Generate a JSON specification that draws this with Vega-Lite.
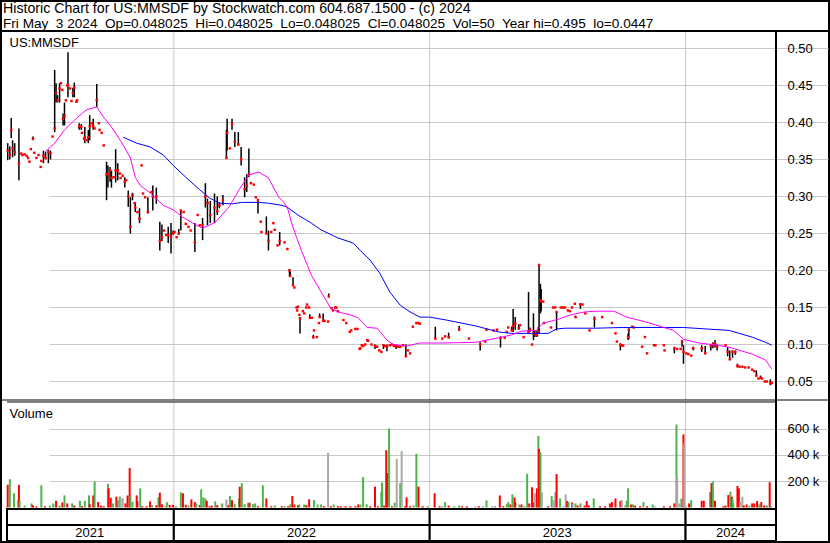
{
"$schema": "https://vega.github.io/schema/vega-lite/v6.json",
"width": 830, "height": 543,
"autosize": {"type": "none"},
"padding": 0,
"background": "white",
"title": {
  "text": "Historic Chart for US:MMSDF by Stockwatch.com 604.687.1500 - (c) 2024",
  "subtitle": "Fri May\u00a0 3 2024\u00a0 Op=0.048025\u00a0 Hi=0.048025\u00a0 Lo=0.048025\u00a0 Cl=0.048025\u00a0 Vol=50\u00a0 Year hi=0.495\u00a0 lo=0.0447",
  "anchor": "start", "frame": "group", "offset": -31, "dx": 3,
  "font": "Liberation Sans", "fontSize": 14.2, "fontWeight": "normal", "color": "black",
  "subtitleFont": "Liberation Sans", "subtitleFontSize": 13.6, "subtitleColor": "black", "subtitlePadding": 1
},
"config": {
  "view": {"stroke": "black", "strokeWidth": 4},
  "font": "Liberation Sans",
  "axis": {"labelFont": "Liberation Sans", "labelFontSize": 13, "labelColor": "black", "titleFont": "Liberation Sans", "titleFontSize": 13, "titleFontWeight": "normal", "titleColor": "black", "gridColor": "#c8c8c8", "gridOpacity": 1, "gridWidth": 1, "domain": false, "ticks": false, "tickSize": 0, "labelFlush": false, "labelOverlap": false, "labelBound": false}
},
"datasets": {
  "yearStarts": [{"date": "2022-01-01"}, {"date": "2023-01-01"}, {"date": "2024-01-01"}],
  "yearCells": [
    {"year": "2021", "start": "2021-05-08", "end": "2022-01-01", "mid": "2021-09-03", "row": "blank"},
    {"year": "2022", "start": "2022-01-01", "end": "2023-01-01", "mid": "2022-07-02", "row": "blank"},
    {"year": "2023", "start": "2023-01-01", "end": "2024-01-01", "mid": "2023-07-02", "row": "blank"},
    {"year": "2024", "start": "2024-01-01", "end": "2024-05-09", "mid": "2024-03-05", "row": "blank"},
    {"year": "2021", "start": "2021-05-08", "end": "2022-01-01", "mid": "2021-09-03", "row": "label"},
    {"year": "2022", "start": "2022-01-01", "end": "2023-01-01", "mid": "2022-07-02", "row": "label"},
    {"year": "2023", "start": "2023-01-01", "end": "2024-01-01", "mid": "2023-07-02", "row": "label"},
    {"year": "2024", "start": "2024-01-01", "end": "2024-05-09", "mid": "2024-03-05", "row": "label"}
  ],
  "prices": [
    {"date":"2021-05-09","high":0.372,"low":0.349,"close":0.362},
    {"date":"2021-05-12","high":0.368,"low":0.350,"close":0.356},
    {"date":"2021-05-14","high":0.406,"low":0.379,"close":0.390},
    {"date":"2021-05-16","high":0.376,"low":0.353,"close":0.365},
    {"date":"2021-05-19","high":0.372,"low":0.355,"close":0.360},
    {"date":"2021-05-25","high":0.392,"low":0.322,"close":0.345},
    {"date":"2021-05-28","high":0.358,"low":0.358,"close":0.358},
    {"date":"2021-05-30","high":0.356,"low":0.356,"close":0.356},
    {"date":"2021-06-02","high":0.357,"low":0.357,"close":0.357},
    {"date":"2021-06-05","high":0.355,"low":0.355,"close":0.355},
    {"date":"2021-06-07","high":0.352,"low":0.352,"close":0.352},
    {"date":"2021-06-09","high":0.347,"low":0.347,"close":0.347},
    {"date":"2021-06-11","high":0.364,"low":0.364,"close":0.364},
    {"date":"2021-06-14","high":0.381,"low":0.376,"close":0.378},
    {"date":"2021-06-16","high":0.359,"low":0.359,"close":0.359},
    {"date":"2021-06-19","high":0.352,"low":0.352,"close":0.352},
    {"date":"2021-06-22","high":0.356,"low":0.356,"close":0.356},
    {"date":"2021-06-25","high":0.340,"low":0.340,"close":0.340},
    {"date":"2021-06-26","high":0.348,"low":0.348,"close":0.348},
    {"date":"2021-06-29","high":0.362,"low":0.345,"close":0.355},
    {"date":"2021-07-02","high":0.360,"low":0.350,"close":0.352},
    {"date":"2021-07-06","high":0.363,"low":0.345,"close":0.360},
    {"date":"2021-07-09","high":0.362,"low":0.350,"close":0.358},
    {"date":"2021-07-12","high":0.381,"low":0.381,"close":0.381},
    {"date":"2021-07-15","high":0.471,"low":0.387,"close":0.392},
    {"date":"2021-07-17","high":0.453,"low":0.427,"close":0.440},
    {"date":"2021-07-19","high":0.437,"low":0.427,"close":0.430},
    {"date":"2021-07-22","high":0.453,"low":0.427,"close":0.446},
    {"date":"2021-07-24","high":0.453,"low":0.453,"close":0.453},
    {"date":"2021-07-26","high":0.444,"low":0.444,"close":0.444},
    {"date":"2021-07-27","high":0.412,"low":0.396,"close":0.405},
    {"date":"2021-07-29","high":0.427,"low":0.396,"close":0.409},
    {"date":"2021-07-31","high":0.430,"low":0.430,"close":0.430},
    {"date":"2021-08-02","high":0.450,"low":0.450,"close":0.450},
    {"date":"2021-08-03","high":0.495,"low":0.434,"close":0.450},
    {"date":"2021-08-06","high":0.446,"low":0.446,"close":0.446},
    {"date":"2021-08-08","high":0.429,"low":0.429,"close":0.429},
    {"date":"2021-08-10","high":0.447,"low":0.434,"close":0.440},
    {"date":"2021-08-12","high":0.454,"low":0.434,"close":0.447},
    {"date":"2021-08-15","high":0.428,"low":0.428,"close":0.428},
    {"date":"2021-08-16","high":0.430,"low":0.430,"close":0.430},
    {"date":"2021-08-19","high":0.399,"low":0.390,"close":0.395},
    {"date":"2021-08-22","high":0.398,"low":0.390,"close":0.394},
    {"date":"2021-08-23","high":0.386,"low":0.386,"close":0.386},
    {"date":"2021-08-26","high":0.378,"low":0.378,"close":0.378},
    {"date":"2021-08-27","high":0.394,"low":0.372,"close":0.380},
    {"date":"2021-08-30","high":0.376,"low":0.376,"close":0.376},
    {"date":"2021-09-01","high":0.390,"low":0.372,"close":0.380},
    {"date":"2021-09-03","high":0.410,"low":0.376,"close":0.395},
    {"date":"2021-09-06","high":0.399,"low":0.399,"close":0.399},
    {"date":"2021-09-08","high":0.405,"low":0.390,"close":0.395},
    {"date":"2021-09-10","high":0.392,"low":0.392,"close":0.392},
    {"date":"2021-09-13","high":0.452,"low":0.421,"close":0.430},
    {"date":"2021-09-16","high":0.399,"low":0.399,"close":0.399},
    {"date":"2021-09-17","high":0.390,"low":0.390,"close":0.390},
    {"date":"2021-09-20","high":0.386,"low":0.386,"close":0.386},
    {"date":"2021-09-23","high":0.369,"low":0.369,"close":0.369},
    {"date":"2021-09-27","high":0.347,"low":0.295,"close":0.330},
    {"date":"2021-09-29","high":0.342,"low":0.312,"close":0.330},
    {"date":"2021-10-02","high":0.340,"low":0.320,"close":0.335},
    {"date":"2021-10-04","high":0.335,"low":0.312,"close":0.325},
    {"date":"2021-10-07","high":0.326,"low":0.326,"close":0.326},
    {"date":"2021-10-10","high":0.364,"low":0.319,"close":0.335},
    {"date":"2021-10-13","high":0.345,"low":0.322,"close":0.335},
    {"date":"2021-10-16","high":0.331,"low":0.331,"close":0.331},
    {"date":"2021-10-17","high":0.325,"low":0.325,"close":0.325},
    {"date":"2021-10-20","high":0.328,"low":0.328,"close":0.328},
    {"date":"2021-10-23","high":0.326,"low":0.312,"close":0.320},
    {"date":"2021-10-25","high":0.322,"low":0.322,"close":0.322},
    {"date":"2021-10-28","high":0.308,"low":0.286,"close":0.300},
    {"date":"2021-10-31","high":0.299,"low":0.250,"close":0.259},
    {"date":"2021-11-03","high":0.305,"low":0.295,"close":0.302},
    {"date":"2021-11-06","high":0.291,"low":0.291,"close":0.291},
    {"date":"2021-11-07","high":0.292,"low":0.279,"close":0.285},
    {"date":"2021-11-10","high":0.279,"low":0.279,"close":0.279},
    {"date":"2021-11-13","high":0.284,"low":0.264,"close":0.270},
    {"date":"2021-11-16","high":0.342,"low":0.342,"close":0.342},
    {"date":"2021-11-18","high":0.304,"low":0.304,"close":0.304},
    {"date":"2021-11-21","high":0.299,"low":0.299,"close":0.299},
    {"date":"2021-11-25","high":0.299,"low":0.277,"close":0.279},
    {"date":"2021-11-30","high":0.306,"low":0.306,"close":0.306},
    {"date":"2021-12-02","high":0.315,"low":0.281,"close":0.300},
    {"date":"2021-12-07","high":0.312,"low":0.290,"close":0.300},
    {"date":"2021-12-12","high":0.266,"low":0.227,"close":0.240},
    {"date":"2021-12-15","high":0.262,"low":0.240,"close":0.245},
    {"date":"2021-12-18","high":0.254,"low":0.254,"close":0.254},
    {"date":"2021-12-21","high":0.248,"low":0.248,"close":0.248},
    {"date":"2021-12-24","high":0.259,"low":0.237,"close":0.248},
    {"date":"2021-12-28","high":0.264,"low":0.223,"close":0.245},
    {"date":"2021-12-31","high":0.254,"low":0.248,"close":0.250},
    {"date":"2022-01-02","high":0.252,"low":0.252,"close":0.252},
    {"date":"2022-01-05","high":0.245,"low":0.245,"close":0.245},
    {"date":"2022-01-08","high":0.256,"low":0.248,"close":0.250},
    {"date":"2022-01-11","high":0.281,"low":0.254,"close":0.281},
    {"date":"2022-01-15","high":0.279,"low":0.279,"close":0.279},
    {"date":"2022-01-18","high":0.263,"low":0.263,"close":0.263},
    {"date":"2022-01-22","high":0.259,"low":0.259,"close":0.259},
    {"date":"2022-01-25","high":0.254,"low":0.254,"close":0.254},
    {"date":"2022-01-31","high":0.264,"low":0.225,"close":0.238},
    {"date":"2022-02-04","high":0.275,"low":0.275,"close":0.275},
    {"date":"2022-02-07","high":0.261,"low":0.261,"close":0.261},
    {"date":"2022-02-11","high":0.271,"low":0.241,"close":0.261},
    {"date":"2022-02-15","high":0.318,"low":0.285,"close":0.300},
    {"date":"2022-02-18","high":0.297,"low":0.261,"close":0.291},
    {"date":"2022-02-22","high":0.294,"low":0.264,"close":0.275},
    {"date":"2022-02-28","high":0.304,"low":0.264,"close":0.285},
    {"date":"2022-03-04","high":0.300,"low":0.275,"close":0.280},
    {"date":"2022-03-07","high":0.292,"low":0.284,"close":0.288},
    {"date":"2022-03-12","high":0.302,"low":0.288,"close":0.295},
    {"date":"2022-03-17","high":0.390,"low":0.352,"close":0.352},
    {"date":"2022-03-18","high":0.405,"low":0.362,"close":0.386},
    {"date":"2022-03-22","high":0.365,"low":0.365,"close":0.365},
    {"date":"2022-03-25","high":0.405,"low":0.390,"close":0.398},
    {"date":"2022-03-29","high":0.387,"low":0.367,"close":0.374},
    {"date":"2022-04-03","high":0.387,"low":0.370,"close":0.370},
    {"date":"2022-04-07","high":0.367,"low":0.342,"close":0.350},
    {"date":"2022-04-12","high":0.326,"low":0.299,"close":0.310},
    {"date":"2022-04-15","high":0.330,"low":0.306,"close":0.315},
    {"date":"2022-04-18","high":0.365,"low":0.326,"close":0.330},
    {"date":"2022-04-21","high":0.318,"low":0.318,"close":0.318},
    {"date":"2022-04-25","high":0.316,"low":0.316,"close":0.316},
    {"date":"2022-04-28","high":0.299,"low":0.299,"close":0.299},
    {"date":"2022-05-01","high":0.297,"low":0.277,"close":0.295},
    {"date":"2022-05-05","high":0.266,"low":0.266,"close":0.266},
    {"date":"2022-05-06","high":0.252,"low":0.252,"close":0.252},
    {"date":"2022-05-13","high":0.273,"low":0.250,"close":0.250},
    {"date":"2022-05-16","high":0.254,"low":0.227,"close":0.240},
    {"date":"2022-05-20","high":0.252,"low":0.252,"close":0.252},
    {"date":"2022-05-23","high":0.264,"low":0.264,"close":0.264},
    {"date":"2022-05-25","high":0.255,"low":0.255,"close":0.255},
    {"date":"2022-05-29","high":0.234,"low":0.234,"close":0.234},
    {"date":"2022-06-01","high":0.252,"low":0.234,"close":0.240},
    {"date":"2022-06-08","high":0.238,"low":0.238,"close":0.238},
    {"date":"2022-06-12","high":0.229,"low":0.229,"close":0.229},
    {"date":"2022-06-15","high":0.202,"low":0.191,"close":0.200},
    {"date":"2022-06-16","high":0.198,"low":0.192,"close":0.193},
    {"date":"2022-06-20","high":0.191,"low":0.180,"close":0.180},
    {"date":"2022-06-22","high":0.177,"low":0.177,"close":0.177},
    {"date":"2022-06-25","high":0.150,"low":0.150,"close":0.150},
    {"date":"2022-06-26","high":0.146,"low":0.146,"close":0.146},
    {"date":"2022-06-27","high":0.151,"low":0.151,"close":0.151},
    {"date":"2022-06-29","high":0.140,"low":0.140,"close":0.140},
    {"date":"2022-06-30","high":0.137,"low":0.115,"close":0.135},
    {"date":"2022-07-04","high":0.145,"low":0.145,"close":0.145},
    {"date":"2022-07-06","high":0.142,"low":0.142,"close":0.142},
    {"date":"2022-07-09","high":0.150,"low":0.150,"close":0.150},
    {"date":"2022-07-10","high":0.154,"low":0.154,"close":0.154},
    {"date":"2022-07-13","high":0.150,"low":0.150,"close":0.150},
    {"date":"2022-07-14","high":0.141,"low":0.136,"close":0.136},
    {"date":"2022-07-17","high":0.136,"low":0.136,"close":0.136},
    {"date":"2022-07-19","high":0.113,"low":0.108,"close":0.110},
    {"date":"2022-07-20","high":0.119,"low":0.119,"close":0.119},
    {"date":"2022-07-24","high":0.110,"low":0.110,"close":0.110},
    {"date":"2022-07-27","high":0.129,"low":0.129,"close":0.129},
    {"date":"2022-07-28","high":0.142,"low":0.136,"close":0.137},
    {"date":"2022-08-02","high":0.142,"low":0.132,"close":0.132},
    {"date":"2022-08-04","high":0.132,"low":0.132,"close":0.132},
    {"date":"2022-08-09","high":0.131,"low":0.131,"close":0.131},
    {"date":"2022-08-10","high":0.169,"low":0.164,"close":0.165},
    {"date":"2022-08-14","high":0.149,"low":0.149,"close":0.149},
    {"date":"2022-08-16","high":0.146,"low":0.146,"close":0.146},
    {"date":"2022-08-19","high":0.150,"low":0.150,"close":0.150},
    {"date":"2022-08-21","high":0.150,"low":0.150,"close":0.150},
    {"date":"2022-08-23","high":0.145,"low":0.145,"close":0.145},
    {"date":"2022-08-31","high":0.133,"low":0.133,"close":0.133},
    {"date":"2022-09-04","high":0.129,"low":0.129,"close":0.129},
    {"date":"2022-09-09","high":0.117,"low":0.117,"close":0.117},
    {"date":"2022-09-11","high":0.119,"low":0.119,"close":0.119},
    {"date":"2022-09-17","high":0.121,"low":0.121,"close":0.121},
    {"date":"2022-09-20","high":0.121,"low":0.121,"close":0.121},
    {"date":"2022-09-23","high":0.094,"low":0.094,"close":0.094},
    {"date":"2022-09-24","high":0.095,"low":0.095,"close":0.095},
    {"date":"2022-09-26","high":0.099,"low":0.099,"close":0.099},
    {"date":"2022-09-28","high":0.098,"low":0.098,"close":0.098},
    {"date":"2022-10-01","high":0.100,"low":0.100,"close":0.100},
    {"date":"2022-10-04","high":0.106,"low":0.106,"close":0.106},
    {"date":"2022-10-05","high":0.105,"low":0.105,"close":0.105},
    {"date":"2022-10-10","high":0.100,"low":0.100,"close":0.100},
    {"date":"2022-10-15","high":0.100,"low":0.094,"close":0.098},
    {"date":"2022-10-18","high":0.097,"low":0.097,"close":0.097},
    {"date":"2022-10-21","high":0.092,"low":0.092,"close":0.092},
    {"date":"2022-10-24","high":0.090,"low":0.090,"close":0.090},
    {"date":"2022-10-27","high":0.100,"low":0.094,"close":0.099},
    {"date":"2022-10-29","high":0.098,"low":0.098,"close":0.098},
    {"date":"2022-11-01","high":0.100,"low":0.091,"close":0.097},
    {"date":"2022-11-05","high":0.099,"low":0.099,"close":0.099},
    {"date":"2022-11-08","high":0.100,"low":0.100,"close":0.100},
    {"date":"2022-11-11","high":0.098,"low":0.098,"close":0.098},
    {"date":"2022-11-14","high":0.099,"low":0.094,"close":0.098},
    {"date":"2022-11-17","high":0.097,"low":0.097,"close":0.097},
    {"date":"2022-11-20","high":0.097,"low":0.097,"close":0.097},
    {"date":"2022-11-24","high":0.099,"low":0.099,"close":0.099},
    {"date":"2022-11-28","high":0.100,"low":0.084,"close":0.084},
    {"date":"2022-12-01","high":0.092,"low":0.092,"close":0.092},
    {"date":"2022-12-04","high":0.088,"low":0.088,"close":0.088},
    {"date":"2022-12-08","high":0.124,"low":0.124,"close":0.124},
    {"date":"2022-12-13","high":0.130,"low":0.129,"close":0.129},
    {"date":"2022-12-16","high":0.129,"low":0.129,"close":0.129},
    {"date":"2022-12-18","high":0.128,"low":0.128,"close":0.128},
    {"date":"2023-01-09","high":0.124,"low":0.107,"close":0.108},
    {"date":"2023-01-19","high":0.108,"low":0.108,"close":0.108},
    {"date":"2023-01-23","high":0.111,"low":0.111,"close":0.111},
    {"date":"2023-01-28","high":0.116,"low":0.108,"close":0.110},
    {"date":"2023-02-12","high":0.125,"low":0.119,"close":0.120},
    {"date":"2023-02-26","high":0.108,"low":0.108,"close":0.108},
    {"date":"2023-03-14","high":0.103,"low":0.092,"close":0.100},
    {"date":"2023-03-21","high":0.104,"low":0.104,"close":0.104},
    {"date":"2023-03-23","high":0.120,"low":0.120,"close":0.120},
    {"date":"2023-04-02","high":0.119,"low":0.119,"close":0.119},
    {"date":"2023-04-07","high":0.120,"low":0.120,"close":0.120},
    {"date":"2023-04-12","high":0.111,"low":0.096,"close":0.109},
    {"date":"2023-04-18","high":0.109,"low":0.109,"close":0.109},
    {"date":"2023-04-21","high":0.117,"low":0.117,"close":0.117},
    {"date":"2023-04-23","high":0.123,"low":0.123,"close":0.123},
    {"date":"2023-04-28","high":0.124,"low":0.118,"close":0.119},
    {"date":"2023-04-30","high":0.148,"low":0.117,"close":0.125},
    {"date":"2023-05-03","high":0.137,"low":0.120,"close":0.128},
    {"date":"2023-05-08","high":0.127,"low":0.120,"close":0.122},
    {"date":"2023-05-10","high":0.126,"low":0.126,"close":0.126},
    {"date":"2023-05-15","high":0.110,"low":0.110,"close":0.110},
    {"date":"2023-05-22","high":0.171,"low":0.115,"close":0.117},
    {"date":"2023-05-24","high":0.123,"low":0.117,"close":0.120},
    {"date":"2023-05-27","high":0.100,"low":0.100,"close":0.100},
    {"date":"2023-05-29","high":0.142,"low":0.106,"close":0.115},
    {"date":"2023-05-31","high":0.119,"low":0.110,"close":0.114},
    {"date":"2023-06-03","high":0.119,"low":0.110,"close":0.113},
    {"date":"2023-06-05","high":0.124,"low":0.115,"close":0.118},
    {"date":"2023-06-06","high":0.209,"low":0.115,"close":0.207},
    {"date":"2023-06-08","high":0.182,"low":0.142,"close":0.160},
    {"date":"2023-06-09","high":0.175,"low":0.145,"close":0.158},
    {"date":"2023-06-12","high":0.158,"low":0.158,"close":0.158},
    {"date":"2023-06-13","high":0.129,"low":0.129,"close":0.129},
    {"date":"2023-06-23","high":0.123,"low":0.123,"close":0.123},
    {"date":"2023-06-26","high":0.150,"low":0.150,"close":0.150},
    {"date":"2023-06-29","high":0.150,"low":0.150,"close":0.150},
    {"date":"2023-07-01","high":0.144,"low":0.119,"close":0.144},
    {"date":"2023-07-07","high":0.150,"low":0.150,"close":0.150},
    {"date":"2023-07-10","high":0.150,"low":0.150,"close":0.150},
    {"date":"2023-07-13","high":0.150,"low":0.150,"close":0.150},
    {"date":"2023-07-17","high":0.146,"low":0.146,"close":0.146},
    {"date":"2023-07-20","high":0.145,"low":0.145,"close":0.145},
    {"date":"2023-07-23","high":0.150,"low":0.150,"close":0.150},
    {"date":"2023-07-27","high":0.155,"low":0.155,"close":0.155},
    {"date":"2023-07-28","high":0.139,"low":0.136,"close":0.137},
    {"date":"2023-08-04","high":0.156,"low":0.148,"close":0.154},
    {"date":"2023-08-07","high":0.154,"low":0.154,"close":0.154},
    {"date":"2023-08-11","high":0.142,"low":0.142,"close":0.142},
    {"date":"2023-08-17","high":0.119,"low":0.119,"close":0.119},
    {"date":"2023-08-24","high":0.138,"low":0.123,"close":0.135},
    {"date":"2023-09-04","high":0.137,"low":0.137,"close":0.137},
    {"date":"2023-09-18","high":0.129,"low":0.129,"close":0.129},
    {"date":"2023-09-23","high":0.115,"low":0.115,"close":0.115},
    {"date":"2023-09-25","high":0.104,"low":0.104,"close":0.104},
    {"date":"2023-09-30","high":0.101,"low":0.092,"close":0.100},
    {"date":"2023-10-02","high":0.099,"low":0.099,"close":0.099},
    {"date":"2023-10-04","high":0.0985,"low":0.0985,"close":0.0985},
    {"date":"2023-10-11","high":0.115,"low":0.106,"close":0.110},
    {"date":"2023-10-12","high":0.122,"low":0.107,"close":0.120},
    {"date":"2023-10-17","high":0.124,"low":0.124,"close":0.124},
    {"date":"2023-10-19","high":0.123,"low":0.123,"close":0.123},
    {"date":"2023-10-31","high":0.097,"low":0.097,"close":0.097},
    {"date":"2023-11-04","high":0.110,"low":0.110,"close":0.110},
    {"date":"2023-11-07","high":0.088,"low":0.088,"close":0.088},
    {"date":"2023-11-17","high":0.099,"low":0.099,"close":0.099},
    {"date":"2023-11-19","high":0.099,"low":0.099,"close":0.099},
    {"date":"2023-12-01","high":0.099,"low":0.099,"close":0.099},
    {"date":"2023-12-02","high":0.092,"low":0.092,"close":0.092},
    {"date":"2023-12-16","high":0.097,"low":0.088,"close":0.095},
    {"date":"2023-12-20","high":0.094,"low":0.094,"close":0.094},
    {"date":"2023-12-25","high":0.094,"low":0.094,"close":0.094},
    {"date":"2023-12-27","high":0.106,"low":0.097,"close":0.104},
    {"date":"2023-12-29","high":0.099,"low":0.074,"close":0.090},
    {"date":"2024-01-02","high":0.088,"low":0.088,"close":0.088},
    {"date":"2024-01-05","high":0.087,"low":0.087,"close":0.087},
    {"date":"2024-01-09","high":0.085,"low":0.085,"close":0.085},
    {"date":"2024-01-12","high":0.097,"low":0.092,"close":0.095},
    {"date":"2024-01-24","high":0.099,"low":0.090,"close":0.095},
    {"date":"2024-01-29","high":0.098,"low":0.088,"close":0.088},
    {"date":"2024-02-06","high":0.100,"low":0.092,"close":0.098},
    {"date":"2024-02-09","high":0.103,"low":0.095,"close":0.100},
    {"date":"2024-02-12","high":0.106,"low":0.096,"close":0.101},
    {"date":"2024-02-15","high":0.100,"low":0.092,"close":0.097},
    {"date":"2024-02-27","high":0.099,"low":0.099,"close":0.099},
    {"date":"2024-03-01","high":0.097,"low":0.084,"close":0.090},
    {"date":"2024-03-04","high":0.092,"low":0.079,"close":0.080},
    {"date":"2024-03-08","high":0.092,"low":0.082,"close":0.090},
    {"date":"2024-03-12","high":0.092,"low":0.086,"close":0.090},
    {"date":"2024-03-15","high":0.074,"low":0.069,"close":0.071},
    {"date":"2024-03-18","high":0.070,"low":0.070,"close":0.070},
    {"date":"2024-03-22","high":0.070,"low":0.070,"close":0.070},
    {"date":"2024-03-26","high":0.069,"low":0.069,"close":0.069},
    {"date":"2024-03-31","high":0.069,"low":0.069,"close":0.069},
    {"date":"2024-04-05","high":0.066,"low":0.066,"close":0.066},
    {"date":"2024-04-08","high":0.064,"low":0.064,"close":0.064},
    {"date":"2024-04-11","high":0.065,"low":0.057,"close":0.058},
    {"date":"2024-04-14","high":0.054,"low":0.054,"close":0.054},
    {"date":"2024-04-17","high":0.058,"low":0.054,"close":0.055},
    {"date":"2024-04-19","high":0.054,"low":0.054,"close":0.054},
    {"date":"2024-04-23","high":0.050,"low":0.050,"close":0.050},
    {"date":"2024-04-26","high":0.050,"low":0.050,"close":0.050},
    {"date":"2024-05-01","high":0.053,"low":0.045,"close":0.048},
    {"date":"2024-05-02","high":0.048,"low":0.048,"close":0.048},
    {"date":"2024-05-03","high":0.048025,"low":0.048025,"close":0.048025}
  ],
  "ma": [
    {"date":"2021-07-01","series":"short","value":0.360},
    {"date":"2021-07-15","series":"short","value":0.372},
    {"date":"2021-07-29","series":"short","value":0.390},
    {"date":"2021-08-12","series":"short","value":0.403},
    {"date":"2021-08-29","series":"short","value":0.417},
    {"date":"2021-09-13","series":"short","value":0.421},
    {"date":"2021-09-23","series":"short","value":0.407},
    {"date":"2021-10-07","series":"short","value":0.390},
    {"date":"2021-10-21","series":"short","value":0.369},
    {"date":"2021-10-31","series":"short","value":0.352},
    {"date":"2021-11-07","series":"short","value":0.326},
    {"date":"2021-11-14","series":"short","value":0.315},
    {"date":"2021-11-28","series":"short","value":0.305},
    {"date":"2021-12-17","series":"short","value":0.288},
    {"date":"2021-12-31","series":"short","value":0.282},
    {"date":"2022-01-14","series":"short","value":0.272},
    {"date":"2022-01-28","series":"short","value":0.264},
    {"date":"2022-02-11","series":"short","value":0.257},
    {"date":"2022-03-01","series":"short","value":0.265},
    {"date":"2022-03-21","series":"short","value":0.286},
    {"date":"2022-04-04","series":"short","value":0.309},
    {"date":"2022-04-18","series":"short","value":0.329},
    {"date":"2022-05-02","series":"short","value":0.333},
    {"date":"2022-05-16","series":"short","value":0.325},
    {"date":"2022-05-30","series":"short","value":0.300},
    {"date":"2022-06-08","series":"short","value":0.291},
    {"date":"2022-06-13","series":"short","value":0.282},
    {"date":"2022-06-18","series":"short","value":0.264},
    {"date":"2022-06-25","series":"short","value":0.245},
    {"date":"2022-07-02","series":"short","value":0.227},
    {"date":"2022-07-16","series":"short","value":0.194},
    {"date":"2022-07-30","series":"short","value":0.171},
    {"date":"2022-08-13","series":"short","value":0.149},
    {"date":"2022-08-23","series":"short","value":0.144},
    {"date":"2022-09-10","series":"short","value":0.140},
    {"date":"2022-09-21","series":"short","value":0.136},
    {"date":"2022-10-04","series":"short","value":0.123},
    {"date":"2022-10-18","series":"short","value":0.122},
    {"date":"2022-11-01","series":"short","value":0.106},
    {"date":"2022-11-10","series":"short","value":0.100},
    {"date":"2022-11-29","series":"short","value":0.098},
    {"date":"2022-12-18","series":"short","value":0.102},
    {"date":"2023-01-19","series":"short","value":0.102},
    {"date":"2023-03-08","series":"short","value":0.103},
    {"date":"2023-04-09","series":"short","value":0.109},
    {"date":"2023-04-28","series":"short","value":0.113},
    {"date":"2023-05-12","series":"short","value":0.118},
    {"date":"2023-06-02","series":"short","value":0.119},
    {"date":"2023-06-12","series":"short","value":0.129},
    {"date":"2023-07-03","series":"short","value":0.134},
    {"date":"2023-07-21","series":"short","value":0.140},
    {"date":"2023-08-10","series":"short","value":0.144},
    {"date":"2023-08-28","series":"short","value":0.145},
    {"date":"2023-09-21","series":"short","value":0.145},
    {"date":"2023-10-09","series":"short","value":0.137},
    {"date":"2023-11-07","series":"short","value":0.130},
    {"date":"2023-12-01","series":"short","value":0.123},
    {"date":"2023-12-15","series":"short","value":0.119},
    {"date":"2023-12-29","series":"short","value":0.107},
    {"date":"2024-01-20","series":"short","value":0.102},
    {"date":"2024-02-17","series":"short","value":0.099},
    {"date":"2024-03-08","series":"short","value":0.095},
    {"date":"2024-04-05","series":"short","value":0.087},
    {"date":"2024-04-24","series":"short","value":0.079},
    {"date":"2024-05-03","series":"short","value":0.067},
    {"date":"2021-10-21","series":"long","value":0.380},
    {"date":"2021-11-09","series":"long","value":0.372},
    {"date":"2021-11-28","series":"long","value":0.367},
    {"date":"2021-12-17","series":"long","value":0.356},
    {"date":"2021-12-31","series":"long","value":0.342},
    {"date":"2022-01-18","series":"long","value":0.326},
    {"date":"2022-02-07","series":"long","value":0.309},
    {"date":"2022-02-21","series":"long","value":0.298},
    {"date":"2022-03-07","series":"long","value":0.291},
    {"date":"2022-03-25","series":"long","value":0.290},
    {"date":"2022-04-08","series":"long","value":0.292},
    {"date":"2022-05-02","series":"long","value":0.292},
    {"date":"2022-05-16","series":"long","value":0.291},
    {"date":"2022-06-04","series":"long","value":0.288},
    {"date":"2022-06-11","series":"long","value":0.286},
    {"date":"2022-06-27","series":"long","value":0.275},
    {"date":"2022-07-16","series":"long","value":0.264},
    {"date":"2022-07-30","series":"long","value":0.255},
    {"date":"2022-08-23","series":"long","value":0.244},
    {"date":"2022-09-14","series":"long","value":0.237},
    {"date":"2022-09-24","series":"long","value":0.227},
    {"date":"2022-10-08","series":"long","value":0.214},
    {"date":"2022-10-22","series":"long","value":0.196},
    {"date":"2022-11-05","series":"long","value":0.171},
    {"date":"2022-11-20","series":"long","value":0.153},
    {"date":"2022-12-04","series":"long","value":0.144},
    {"date":"2022-12-18","series":"long","value":0.137},
    {"date":"2023-01-01","series":"long","value":0.137},
    {"date":"2023-01-25","series":"long","value":0.133},
    {"date":"2023-03-08","series":"long","value":0.125},
    {"date":"2023-04-09","series":"long","value":0.117},
    {"date":"2023-04-28","series":"long","value":0.115},
    {"date":"2023-05-26","series":"long","value":0.115},
    {"date":"2023-06-19","series":"long","value":0.115},
    {"date":"2023-07-01","series":"long","value":0.121},
    {"date":"2023-07-13","series":"long","value":0.122},
    {"date":"2023-08-24","series":"long","value":0.122},
    {"date":"2023-10-05","series":"long","value":0.123},
    {"date":"2023-11-21","series":"long","value":0.123},
    {"date":"2023-12-29","series":"long","value":0.123},
    {"date":"2024-01-30","series":"long","value":0.121},
    {"date":"2024-03-03","series":"long","value":0.119},
    {"date":"2024-04-05","series":"long","value":0.110},
    {"date":"2024-04-24","series":"long","value":0.103},
    {"date":"2024-05-03","series":"long","value":0.099}
  ],
  "volume": [
    {"date":"2021-05-09","volume":172000,"dir":"down"},
    {"date":"2021-05-12","volume":215000,"dir":"up"},
    {"date":"2021-05-18","volume":108000,"dir":"up"},
    {"date":"2021-05-24","volume":56000,"dir":"up"},
    {"date":"2021-05-25","volume":172000,"dir":"down"},
    {"date":"2021-05-26","volume":51000,"dir":"up"},
    {"date":"2021-06-02","volume":15000,"dir":"up"},
    {"date":"2021-06-12","volume":31000,"dir":"up"},
    {"date":"2021-06-14","volume":18000,"dir":"down"},
    {"date":"2021-06-19","volume":10000,"dir":"down"},
    {"date":"2021-06-26","volume":169000,"dir":"up"},
    {"date":"2021-07-01","volume":10000,"dir":"down"},
    {"date":"2021-07-08","volume":15000,"dir":"up"},
    {"date":"2021-07-13","volume":31000,"dir":"up"},
    {"date":"2021-07-17","volume":51000,"dir":"down"},
    {"date":"2021-07-22","volume":15000,"dir":"up"},
    {"date":"2021-07-26","volume":38000,"dir":"down"},
    {"date":"2021-07-29","volume":92000,"dir":"up"},
    {"date":"2021-08-02","volume":31000,"dir":"down"},
    {"date":"2021-08-09","volume":31000,"dir":"up"},
    {"date":"2021-08-12","volume":15000,"dir":"down"},
    {"date":"2021-08-20","volume":51000,"dir":"up"},
    {"date":"2021-08-23","volume":10000,"dir":"down"},
    {"date":"2021-08-27","volume":51000,"dir":"up"},
    {"date":"2021-09-02","volume":92000,"dir":"up"},
    {"date":"2021-09-03","volume":25000,"dir":"down"},
    {"date":"2021-09-08","volume":92000,"dir":"down"},
    {"date":"2021-09-10","volume":197000,"dir":"up"},
    {"date":"2021-09-15","volume":41000,"dir":"down"},
    {"date":"2021-09-19","volume":15000,"dir":"down"},
    {"date":"2021-09-23","volume":10000,"dir":"down"},
    {"date":"2021-09-29","volume":180000,"dir":"up"},
    {"date":"2021-09-30","volume":146000,"dir":"down"},
    {"date":"2021-10-03","volume":74000,"dir":"down"},
    {"date":"2021-10-06","volume":31000,"dir":"up"},
    {"date":"2021-10-11","volume":82000,"dir":"down"},
    {"date":"2021-10-13","volume":56000,"dir":"up"},
    {"date":"2021-10-16","volume":82000,"dir":"up"},
    {"date":"2021-10-17","volume":62000,"dir":"flat"},
    {"date":"2021-10-20","volume":72000,"dir":"flat"},
    {"date":"2021-10-24","volume":31000,"dir":"down"},
    {"date":"2021-10-27","volume":92000,"dir":"down"},
    {"date":"2021-10-30","volume":300000,"dir":"down"},
    {"date":"2021-10-31","volume":87000,"dir":"up"},
    {"date":"2021-11-03","volume":44000,"dir":"up"},
    {"date":"2021-11-09","volume":92000,"dir":"down"},
    {"date":"2021-11-10","volume":49000,"dir":"down"},
    {"date":"2021-11-14","volume":146000,"dir":"up"},
    {"date":"2021-11-17","volume":10000,"dir":"down"},
    {"date":"2021-11-23","volume":10000,"dir":"down"},
    {"date":"2021-11-28","volume":46000,"dir":"down"},
    {"date":"2021-12-01","volume":18000,"dir":"up"},
    {"date":"2021-12-07","volume":18000,"dir":"down"},
    {"date":"2021-12-10","volume":77000,"dir":"up"},
    {"date":"2021-12-12","volume":113000,"dir":"down"},
    {"date":"2021-12-15","volume":25000,"dir":"down"},
    {"date":"2021-12-19","volume":10000,"dir":"flat"},
    {"date":"2021-12-22","volume":41000,"dir":"up"},
    {"date":"2021-12-26","volume":20000,"dir":"down"},
    {"date":"2021-12-31","volume":20000,"dir":"down"},
    {"date":"2022-01-04","volume":10000,"dir":"up"},
    {"date":"2022-01-11","volume":115000,"dir":"up"},
    {"date":"2022-01-14","volume":108000,"dir":"down"},
    {"date":"2022-01-18","volume":20000,"dir":"down"},
    {"date":"2022-01-22","volume":15000,"dir":"up"},
    {"date":"2022-01-26","volume":62000,"dir":"down"},
    {"date":"2022-01-31","volume":41000,"dir":"down"},
    {"date":"2022-02-02","volume":31000,"dir":"up"},
    {"date":"2022-02-07","volume":18000,"dir":"down"},
    {"date":"2022-02-09","volume":138000,"dir":"up"},
    {"date":"2022-02-12","volume":77000,"dir":"up"},
    {"date":"2022-02-15","volume":69000,"dir":"up"},
    {"date":"2022-02-17","volume":51000,"dir":"down"},
    {"date":"2022-02-21","volume":10000,"dir":"down"},
    {"date":"2022-02-24","volume":15000,"dir":"down"},
    {"date":"2022-03-01","volume":46000,"dir":"up"},
    {"date":"2022-03-04","volume":18000,"dir":"down"},
    {"date":"2022-03-11","volume":31000,"dir":"up"},
    {"date":"2022-03-17","volume":62000,"dir":"flat"},
    {"date":"2022-03-20","volume":18000,"dir":"down"},
    {"date":"2022-03-22","volume":87000,"dir":"up"},
    {"date":"2022-03-25","volume":56000,"dir":"down"},
    {"date":"2022-03-29","volume":25000,"dir":"up"},
    {"date":"2022-04-04","volume":69000,"dir":"up"},
    {"date":"2022-04-05","volume":159000,"dir":"down"},
    {"date":"2022-04-08","volume":185000,"dir":"up"},
    {"date":"2022-04-12","volume":25000,"dir":"up"},
    {"date":"2022-04-17","volume":36000,"dir":"up"},
    {"date":"2022-04-19","volume":36000,"dir":"down"},
    {"date":"2022-04-24","volume":25000,"dir":"up"},
    {"date":"2022-04-27","volume":31000,"dir":"up"},
    {"date":"2022-05-01","volume":10000,"dir":"down"},
    {"date":"2022-05-08","volume":169000,"dir":"up"},
    {"date":"2022-05-13","volume":69000,"dir":"down"},
    {"date":"2022-05-20","volume":10000,"dir":"down"},
    {"date":"2022-05-25","volume":15000,"dir":"up"},
    {"date":"2022-06-04","volume":10000,"dir":"down"},
    {"date":"2022-06-08","volume":10000,"dir":"up"},
    {"date":"2022-06-13","volume":10000,"dir":"down"},
    {"date":"2022-06-16","volume":23000,"dir":"up"},
    {"date":"2022-06-19","volume":87000,"dir":"down"},
    {"date":"2022-06-22","volume":23000,"dir":"down"},
    {"date":"2022-06-27","volume":18000,"dir":"down"},
    {"date":"2022-06-29","volume":23000,"dir":"up"},
    {"date":"2022-07-06","volume":23000,"dir":"up"},
    {"date":"2022-07-09","volume":18000,"dir":"down"},
    {"date":"2022-07-13","volume":62000,"dir":"down"},
    {"date":"2022-07-20","volume":56000,"dir":"up"},
    {"date":"2022-07-25","volume":23000,"dir":"up"},
    {"date":"2022-07-30","volume":23000,"dir":"up"},
    {"date":"2022-08-03","volume":10000,"dir":"down"},
    {"date":"2022-08-09","volume":415000,"dir":"flat"},
    {"date":"2022-08-13","volume":10000,"dir":"down"},
    {"date":"2022-08-17","volume":23000,"dir":"up"},
    {"date":"2022-08-23","volume":10000,"dir":"down"},
    {"date":"2022-08-27","volume":10000,"dir":"down"},
    {"date":"2022-09-03","volume":10000,"dir":"down"},
    {"date":"2022-09-10","volume":10000,"dir":"down"},
    {"date":"2022-09-17","volume":10000,"dir":"down"},
    {"date":"2022-09-21","volume":23000,"dir":"down"},
    {"date":"2022-09-24","volume":23000,"dir":"up"},
    {"date":"2022-09-28","volume":231000,"dir":"up"},
    {"date":"2022-10-03","volume":25000,"dir":"up"},
    {"date":"2022-10-08","volume":10000,"dir":"down"},
    {"date":"2022-10-15","volume":159000,"dir":"down"},
    {"date":"2022-10-19","volume":10000,"dir":"down"},
    {"date":"2022-10-24","volume":120000,"dir":"up"},
    {"date":"2022-10-25","volume":190000,"dir":"up"},
    {"date":"2022-10-28","volume":15000,"dir":"down"},
    {"date":"2022-10-31","volume":436000,"dir":"down"},
    {"date":"2022-11-01","volume":262000,"dir":"down"},
    {"date":"2022-11-04","volume":600000,"dir":"up"},
    {"date":"2022-11-08","volume":10000,"dir":"down"},
    {"date":"2022-11-12","volume":36000,"dir":"up"},
    {"date":"2022-11-15","volume":369000,"dir":"flat"},
    {"date":"2022-11-20","volume":185000,"dir":"up"},
    {"date":"2022-11-22","volume":428000,"dir":"flat"},
    {"date":"2022-11-27","volume":10000,"dir":"down"},
    {"date":"2022-11-29","volume":77000,"dir":"down"},
    {"date":"2022-12-04","volume":10000,"dir":"down"},
    {"date":"2022-12-09","volume":15000,"dir":"up"},
    {"date":"2022-12-13","volume":408000,"dir":"up"},
    {"date":"2022-12-16","volume":159000,"dir":"down"},
    {"date":"2022-12-22","volume":10000,"dir":"down"},
    {"date":"2022-12-29","volume":10000,"dir":"up"},
    {"date":"2023-01-08","volume":108000,"dir":"down"},
    {"date":"2023-01-15","volume":10000,"dir":"down"},
    {"date":"2023-01-19","volume":10000,"dir":"up"},
    {"date":"2023-01-23","volume":41000,"dir":"up"},
    {"date":"2023-01-28","volume":15000,"dir":"down"},
    {"date":"2023-02-05","volume":10000,"dir":"up"},
    {"date":"2023-02-12","volume":15000,"dir":"up"},
    {"date":"2023-02-16","volume":10000,"dir":"down"},
    {"date":"2023-02-23","volume":10000,"dir":"down"},
    {"date":"2023-03-07","volume":10000,"dir":"flat"},
    {"date":"2023-03-12","volume":10000,"dir":"down"},
    {"date":"2023-03-18","volume":10000,"dir":"flat"},
    {"date":"2023-03-23","volume":54000,"dir":"up"},
    {"date":"2023-03-31","volume":10000,"dir":"flat"},
    {"date":"2023-04-04","volume":10000,"dir":"up"},
    {"date":"2023-04-11","volume":92000,"dir":"down"},
    {"date":"2023-04-16","volume":10000,"dir":"down"},
    {"date":"2023-04-21","volume":25000,"dir":"up"},
    {"date":"2023-04-23","volume":41000,"dir":"up"},
    {"date":"2023-04-26","volume":23000,"dir":"down"},
    {"date":"2023-04-29","volume":100000,"dir":"up"},
    {"date":"2023-05-02","volume":77000,"dir":"down"},
    {"date":"2023-05-03","volume":41000,"dir":"down"},
    {"date":"2023-05-09","volume":23000,"dir":"up"},
    {"date":"2023-05-12","volume":23000,"dir":"down"},
    {"date":"2023-05-16","volume":10000,"dir":"up"},
    {"date":"2023-05-20","volume":256000,"dir":"up"},
    {"date":"2023-05-23","volume":31000,"dir":"down"},
    {"date":"2023-05-27","volume":154000,"dir":"down"},
    {"date":"2023-05-29","volume":38000,"dir":"down"},
    {"date":"2023-05-31","volume":108000,"dir":"flat"},
    {"date":"2023-06-03","volume":146000,"dir":"down"},
    {"date":"2023-06-05","volume":544000,"dir":"up"},
    {"date":"2023-06-06","volume":446000,"dir":"down"},
    {"date":"2023-06-08","volume":420000,"dir":"up"},
    {"date":"2023-06-10","volume":115000,"dir":"flat"},
    {"date":"2023-06-19","volume":10000,"dir":"down"},
    {"date":"2023-06-24","volume":87000,"dir":"up"},
    {"date":"2023-06-27","volume":56000,"dir":"flat"},
    {"date":"2023-06-29","volume":115000,"dir":"flat"},
    {"date":"2023-07-01","volume":254000,"dir":"down"},
    {"date":"2023-07-06","volume":69000,"dir":"up"},
    {"date":"2023-07-11","volume":10000,"dir":"flat"},
    {"date":"2023-07-14","volume":100000,"dir":"flat"},
    {"date":"2023-07-16","volume":49000,"dir":"down"},
    {"date":"2023-07-18","volume":41000,"dir":"up"},
    {"date":"2023-07-23","volume":38000,"dir":"down"},
    {"date":"2023-07-24","volume":31000,"dir":"flat"},
    {"date":"2023-07-28","volume":31000,"dir":"up"},
    {"date":"2023-07-31","volume":15000,"dir":"down"},
    {"date":"2023-08-04","volume":31000,"dir":"up"},
    {"date":"2023-08-10","volume":15000,"dir":"down"},
    {"date":"2023-08-13","volume":49000,"dir":"down"},
    {"date":"2023-08-16","volume":15000,"dir":"down"},
    {"date":"2023-08-23","volume":69000,"dir":"up"},
    {"date":"2023-09-01","volume":10000,"dir":"down"},
    {"date":"2023-09-08","volume":10000,"dir":"down"},
    {"date":"2023-09-15","volume":31000,"dir":"down"},
    {"date":"2023-09-18","volume":41000,"dir":"down"},
    {"date":"2023-09-23","volume":69000,"dir":"down"},
    {"date":"2023-09-30","volume":49000,"dir":"down"},
    {"date":"2023-10-02","volume":56000,"dir":"flat"},
    {"date":"2023-10-07","volume":18000,"dir":"flat"},
    {"date":"2023-10-09","volume":51000,"dir":"up"},
    {"date":"2023-10-11","volume":146000,"dir":"up"},
    {"date":"2023-10-15","volume":23000,"dir":"down"},
    {"date":"2023-10-18","volume":23000,"dir":"up"},
    {"date":"2023-10-21","volume":15000,"dir":"down"},
    {"date":"2023-10-28","volume":10000,"dir":"down"},
    {"date":"2023-11-02","volume":41000,"dir":"up"},
    {"date":"2023-11-07","volume":10000,"dir":"down"},
    {"date":"2023-11-15","volume":23000,"dir":"up"},
    {"date":"2023-11-18","volume":10000,"dir":"flat"},
    {"date":"2023-12-01","volume":10000,"dir":"down"},
    {"date":"2023-12-10","volume":10000,"dir":"down"},
    {"date":"2023-12-16","volume":31000,"dir":"down"},
    {"date":"2023-12-19","volume":630000,"dir":"up"},
    {"date":"2023-12-20","volume":231000,"dir":"flat"},
    {"date":"2023-12-23","volume":31000,"dir":"flat"},
    {"date":"2023-12-26","volume":67000,"dir":"up"},
    {"date":"2023-12-29","volume":556000,"dir":"down"},
    {"date":"2023-12-30","volume":487000,"dir":"flat"},
    {"date":"2024-01-02","volume":10000,"dir":"flat"},
    {"date":"2024-01-06","volume":31000,"dir":"down"},
    {"date":"2024-01-09","volume":56000,"dir":"up"},
    {"date":"2024-01-24","volume":51000,"dir":"down"},
    {"date":"2024-01-27","volume":51000,"dir":"down"},
    {"date":"2024-02-05","volume":118000,"dir":"up"},
    {"date":"2024-02-07","volume":185000,"dir":"down"},
    {"date":"2024-02-09","volume":197000,"dir":"up"},
    {"date":"2024-02-12","volume":51000,"dir":"down"},
    {"date":"2024-02-24","volume":10000,"dir":"down"},
    {"date":"2024-02-27","volume":15000,"dir":"down"},
    {"date":"2024-03-02","volume":95000,"dir":"down"},
    {"date":"2024-03-05","volume":120000,"dir":"up"},
    {"date":"2024-03-07","volume":82000,"dir":"down"},
    {"date":"2024-03-08","volume":67000,"dir":"up"},
    {"date":"2024-03-09","volume":31000,"dir":"up"},
    {"date":"2024-03-15","volume":164000,"dir":"down"},
    {"date":"2024-03-17","volume":146000,"dir":"down"},
    {"date":"2024-03-19","volume":44000,"dir":"flat"},
    {"date":"2024-03-22","volume":82000,"dir":"flat"},
    {"date":"2024-03-24","volume":15000,"dir":"down"},
    {"date":"2024-03-28","volume":23000,"dir":"down"},
    {"date":"2024-04-01","volume":15000,"dir":"up"},
    {"date":"2024-04-05","volume":31000,"dir":"down"},
    {"date":"2024-04-08","volume":31000,"dir":"down"},
    {"date":"2024-04-12","volume":49000,"dir":"down"},
    {"date":"2024-04-15","volume":23000,"dir":"up"},
    {"date":"2024-04-18","volume":41000,"dir":"down"},
    {"date":"2024-04-22","volume":15000,"dir":"down"},
    {"date":"2024-04-25","volume":15000,"dir":"flat"},
    {"date":"2024-04-26","volume":15000,"dir":"up"},
    {"date":"2024-04-30","volume":192000,"dir":"down"},
    {"date":"2024-05-02","volume":10000,"dir":"up"},
    {"date":"2024-05-03","volume":50,"dir":"flat"}
  ]
},
"resolve": {"scale": {"y": "independent"}},
"layer": [
  {
    "layer": [
      {
        "data": {"name": "yearStarts"},
        "mark": {"type": "rule", "color": "#c8c8c8", "strokeWidth": 1},
        "encoding": {
          "x": {"field": "date", "type": "temporal", "axis": null, "scale": {"domain": [{"year": 2021, "month": 5, "date": 8}, {"year": 2024, "month": 5, "date": 9}], "range": [2, 781]}},
          "y": {"datum": 0.5236, "type": "quantitative",
                "scale": {"domain": [0.025, 0.5236], "range": [400, 31], "nice": false, "zero": false},
                "axis": {"orient": "right", "offset": -47, "grid": true, "labelPadding": 4,
                         "values": [0.05, 0.075, 0.1, 0.125, 0.15, 0.175, 0.2, 0.225, 0.25, 0.275, 0.3, 0.325, 0.35, 0.375, 0.4, 0.425, 0.45, 0.475, 0.5],
                         "labelExpr": "round(datum.value*1000) % 50 == 0 ? format(datum.value, '.2f') : format(datum.value, '.3f')",
                         "title": "US:MMSDF", "titleAngle": 0, "titleAlign": "left", "titleBaseline": "middle", "titleX": -774, "titleY": 42}},
          "y2": {"datum": 0.025}
        }
      },
      {
        "data": {"name": "prices"},
        "mark": {"type": "rule", "color": "black", "strokeWidth": 1.5},
        "encoding": {
          "x": {"field": "date", "type": "temporal", "axis": null, "scale": {"domain": [{"year": 2021, "month": 5, "date": 8}, {"year": 2024, "month": 5, "date": 9}], "range": [2, 781]}},
          "y": {"field": "low", "type": "quantitative"},
          "y2": {"field": "high"}
        }
      },
      {
        "data": {"name": "prices"},
        "mark": {"type": "square", "color": "#ff0000", "size": 6, "opacity": 1, "filled": true},
        "encoding": {
          "x": {"field": "date", "type": "temporal", "axis": null, "scale": {"domain": [{"year": 2021, "month": 5, "date": 8}, {"year": 2024, "month": 5, "date": 9}], "range": [2, 781]}},
          "y": {"field": "close", "type": "quantitative"}
        }
      },
      {
        "data": {"name": "ma"},
        "transform": [{"filter": "datum.series == 'long'"}],
        "mark": {"type": "line", "color": "#0000ff", "strokeWidth": 1},
        "encoding": {
          "x": {"field": "date", "type": "temporal", "axis": null, "scale": {"domain": [{"year": 2021, "month": 5, "date": 8}, {"year": 2024, "month": 5, "date": 9}], "range": [2, 781]}},
          "y": {"field": "value", "type": "quantitative"}
        }
      },
      {
        "data": {"name": "ma"},
        "transform": [{"filter": "datum.series == 'short'"}],
        "mark": {"type": "line", "color": "#ff00ff", "strokeWidth": 1},
        "encoding": {
          "x": {"field": "date", "type": "temporal", "axis": null, "scale": {"domain": [{"year": 2021, "month": 5, "date": 8}, {"year": 2024, "month": 5, "date": 9}], "range": [2, 781]}},
          "y": {"field": "value", "type": "quantitative"}
        }
      },
      {
        "data": {"values": [{}]},
        "mark": {"type": "rule", "color": "black", "strokeWidth": 2},
        "encoding": {"y": {"datum": 0.5236, "type": "quantitative"}}
      },
      {
        "data": {"values": [{}]},
        "mark": {"type": "rule", "color": "black", "strokeWidth": 1.2},
        "encoding": {"y": {"datum": 0.025, "type": "quantitative"}}
      },
      {
        "data": {"values": [{}]},
        "mark": {"type": "rule", "color": "black", "strokeWidth": 2},
        "encoding": {
          "x": {"datum": {"year": 2024, "month": 5, "date": 9}, "type": "temporal", "axis": null, "scale": {"domain": [{"year": 2021, "month": 5, "date": 8}, {"year": 2024, "month": 5, "date": 9}], "range": [2, 781]}},
          "y": {"datum": 0.5236, "type": "quantitative"},
          "y2": {"datum": -0.3}
        }
      }
    ]
  },
  {
    "layer": [
      {
        "data": {"name": "yearStarts"},
        "mark": {"type": "rule", "color": "#c8c8c8", "strokeWidth": 1},
        "encoding": {
          "x": {"field": "date", "type": "temporal", "axis": null, "scale": {"domain": [{"year": 2021, "month": 5, "date": 8}, {"year": 2024, "month": 5, "date": 9}], "range": [2, 781]}},
          "y": {"datum": 802000, "type": "quantitative",
                "scale": {"domain": [0, 802000], "range": [507.5, 402], "nice": false, "zero": true},
                "axis": {"orient": "right", "offset": -47, "grid": true, "labelPadding": 4,
                         "values": [200000, 400000, 600000],
                         "labelExpr": "format(datum.value/1000, 'd') + ' k'",
                         "title": "Volume", "titleAngle": 0, "titleAlign": "left", "titleBaseline": "middle", "titleX": -774, "titleY": 413}},
          "y2": {"datum": 0}
        }
      },
      {
        "data": {"name": "volume"},
        "mark": {"type": "bar", "width": 2},
        "encoding": {
          "x": {"field": "date", "type": "temporal", "axis": null, "scale": {"domain": [{"year": 2021, "month": 5, "date": 8}, {"year": 2024, "month": 5, "date": 9}], "range": [2, 781]}},
          "y": {"field": "volume", "type": "quantitative"},
          "color": {"field": "dir", "type": "nominal", "legend": null,
                    "scale": {"domain": ["up", "down", "flat"], "range": ["#4db34d", "#ff0000", "#a8a8a8"]}}
        }
      },
      {
        "data": {"values": [{}]},
        "mark": {"type": "rule", "color": "black", "strokeWidth": 1.2},
        "encoding": {
          "x": {"datum": {"year": 2021, "month": 5, "date": 8}, "type": "temporal", "axis": null, "scale": {"domain": [{"year": 2021, "month": 5, "date": 8}, {"year": 2024, "month": 5, "date": 9}], "range": [2, 781]}},
          "x2": {"datum": {"year": 2024, "month": 5, "date": 9}},
          "y": {"datum": 802000, "type": "quantitative"}
        }
      }
    ]
  },
  {
    "layer": [
      {
        "data": {"name": "yearCells"},
        "mark": {"type": "rect", "fill": "white", "stroke": "black", "strokeWidth": 2},
        "encoding": {
          "x": {"field": "start", "type": "temporal", "axis": null, "scale": {"domain": [{"year": 2021, "month": 5, "date": 8}, {"year": 2024, "month": 5, "date": 9}], "range": [2, 781]}},
          "x2": {"field": "end"},
          "y": {"field": "row", "type": "nominal", "axis": null,
                "scale": {"type": "band", "domain": ["blank", "label"], "range": [509, 541], "paddingInner": 0, "paddingOuter": 0}}
        }
      },
      {
        "data": {"name": "yearCells"},
        "transform": [{"filter": "datum.row == 'label'"}],
        "mark": {"type": "text", "font": "Liberation Sans", "fontSize": 13, "color": "black", "baseline": "middle", "align": "center"},
        "encoding": {
          "x": {"field": "mid", "type": "temporal", "axis": null, "scale": {"domain": [{"year": 2021, "month": 5, "date": 8}, {"year": 2024, "month": 5, "date": 9}], "range": [2, 781]}},
          "y": {"field": "row", "type": "nominal"},
          "text": {"field": "year", "type": "nominal"}
        }
      }
    ]
  }
]
}
